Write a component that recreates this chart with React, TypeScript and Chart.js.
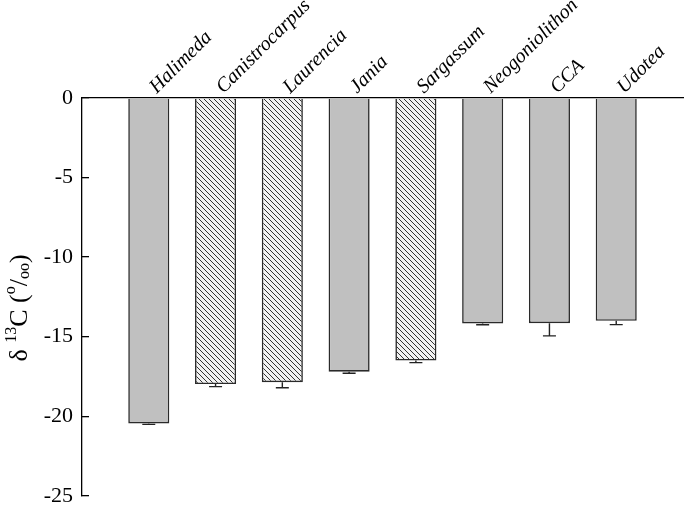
import React, { useEffect, useRef } from "react";
import { Chart, registerables } from "chart.js";

Chart.register(...registerables);

const categories = ["Halimeda", "Canistrocarpus", "Laurencia", "Jania", "Sargassum", "Neogoniolithon", "CCA", "Udotea"];
const values = [-20.45, -17.98, -17.86, -17.2, -16.5, -14.17, -14.15, -14.0];
const errors = [0.06, 0.16, 0.35, 0.1, 0.13, 0.08, 0.8, 0.24];
const hatched = [false, true, true, false, true, false, false, false];
const yMin = -25;
const yMax = 0;
const yStep = 5;

const SERIF = '"Liberation Serif", "Times New Roman", serif';

function makeHatch(): CanvasPattern | string {
  const c = document.createElement("canvas");
  const s = 5;
  c.width = s;
  c.height = s;
  const g = c.getContext("2d");
  if (!g) return "#ddd";
  g.fillStyle = "#f2f2f2";
  g.fillRect(0, 0, s, s);
  g.strokeStyle = "#333";
  g.lineWidth = 1;
  for (let k = -1; k <= 1; k++) {
    g.beginPath();
    g.moveTo(k * s, 0);
    g.lineTo(k * s + s, s);
    g.stroke();
  }
  const p = g.createPattern(c, "repeat");
  return p || "#ddd";
}

const errorBarPlugin = {
  id: "errorBars",
  afterDatasetsDraw(chart: any) {
    const { ctx, scales } = chart;
    const xs = scales.x;
    const ys = scales.y;
    ctx.save();
    ctx.strokeStyle = "#222";
    ctx.lineWidth = 1.4;
    values.forEach((v, i) => {
      const x = xs.getPixelForValue(i);
      const y1 = ys.getPixelForValue(v);
      const y2 = ys.getPixelForValue(v - errors[i]);
      ctx.beginPath();
      ctx.moveTo(x, y1);
      ctx.lineTo(x, y2);
      ctx.moveTo(x - 6.5, y2);
      ctx.lineTo(x + 6.5, y2);
      ctx.stroke();
    });
    ctx.restore();
  },
};

const xLabelPlugin = {
  id: "xLabels",
  afterDraw(chart: any) {
    const { ctx, scales, chartArea } = chart;
    const xs = scales.x;
    ctx.save();
    ctx.fillStyle = "#000";
    ctx.font = `italic 20px ${SERIF}`;
    ctx.textAlign = "left";
    ctx.textBaseline = "alphabetic";
    categories.forEach((c, i) => {
      const x = xs.getPixelForValue(i);
      ctx.save();
      ctx.translate(x + 8, chartArea.top - 4);
      ctx.rotate(-Math.PI / 4);
      ctx.fillText(c, 0, 0);
      ctx.restore();
    });
    ctx.restore();
  },
};

const yTitlePlugin = {
  id: "yTitle",
  afterDraw(chart: any) {
    const { ctx } = chart;
    const F = 26;
    const s = 16;
    const parts: { t: string; size: number; dy: number }[] = [
      { t: "\u03b4 ", size: F, dy: 0 },
      { t: "13", size: s, dy: -0.42 * F },
      { t: "C (", size: F, dy: 0 },
      { t: "o", size: s, dy: -0.45 * F },
      { t: "/", size: F, dy: 0 },
      { t: "oo", size: s, dy: 0.08 * F },
      { t: ")", size: F, dy: 0 },
    ];
    ctx.save();
    let total = 0;
    parts.forEach((p) => {
      ctx.font = `${p.size}px ${SERIF}`;
      total += ctx.measureText(p.t).width;
    });
    ctx.translate(27, 308);
    ctx.rotate(-Math.PI / 2);
    ctx.fillStyle = "#000";
    ctx.textBaseline = "alphabetic";
    ctx.textAlign = "left";
    let x = -total / 2;
    parts.forEach((p) => {
      ctx.font = `${p.size}px ${SERIF}`;
      ctx.fillText(p.t, x, p.dy);
      x += ctx.measureText(p.t).width;
    });
    ctx.restore();
  },
};

export default function App() {
  const ref = useRef<HTMLCanvasElement | null>(null);

  useEffect(() => {
    if (!ref.current) return;
    const hatch = makeHatch();
    const chart = new Chart(ref.current, {
      type: "bar",
      data: {
        datasets: [
          {
            data: values.map((v, i) => ({ x: i, y: v })),
            backgroundColor: hatched.map((h) => (h ? hatch : "#c0c0c0")),
            borderColor: "#2a2a2a",
            borderWidth: 1.6,
            categoryPercentage: 1,
            barPercentage: 0.615,
          } as any,
        ],
      },
      options: {
        animation: false,
        responsive: false,
        maintainAspectRatio: false,
        layout: { padding: { top: 0, left: 0, right: 2, bottom: 7 } },
        plugins: {
          legend: { display: false },
          tooltip: { enabled: false },
        },
        scales: {
          x: {
            type: "linear",
            position: "top",
            offset: false,
            min: -1,
            max: 8,
            afterFit: (scale: any) => {
              scale.height = 98;
            },
            grid: { display: true, drawOnChartArea: false, drawTicks: false, color: "rgba(0,0,0,0)" },
            border: { display: true, color: "#000", width: 1.3 },
            ticks: { display: false, stepSize: 1 },
          },
          y: {
            type: "linear",
            min: yMin,
            max: yMax,
            afterFit: (scale: any) => {
              scale.width = 82;
            },
            grid: { display: true, drawOnChartArea: false, tickLength: -7, color: "#000", lineWidth: 1.3 },
            border: { display: true, color: "#000", width: 1.3 },
            ticks: {
              stepSize: yStep,
              padding: 16,
              color: "#000",
              font: { family: SERIF, size: 22 },
            },
          },
        },
      },
      plugins: [errorBarPlugin, xLabelPlugin, yTitlePlugin],
    } as any);
    return () => chart.destroy();
  }, []);

  return (
    <div style={{ position: "fixed", left: 0, top: 0, width: 685, height: 525, background: "#fff" }}>
      <canvas ref={ref} width={685} height={525} style={{ width: 685, height: 525, display: "block" }} />
    </div>
  );
}
